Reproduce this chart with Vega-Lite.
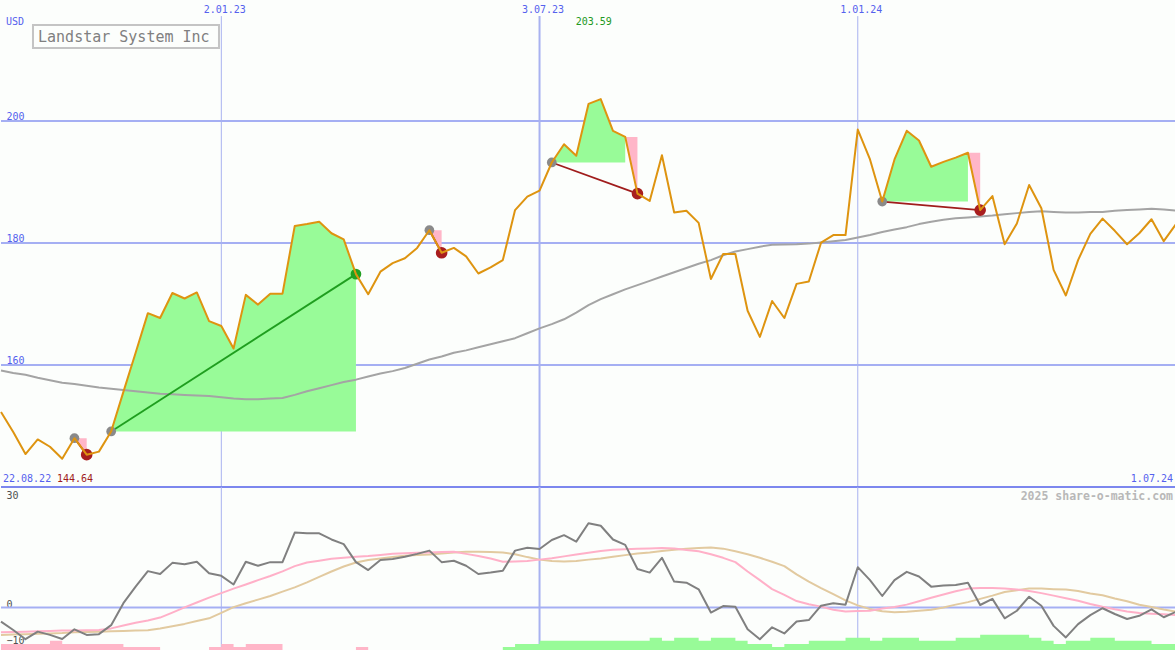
{
  "$schema": "https://vega.github.io/schema/vega-lite/v6.json",
  "background": "#fcfefc",
  "padding": 0,
  "spacing": 0,
  "bounds": "flush",
  "config": {
    "view": {"stroke": null},
    "axis": {"labelFont": "DejaVu Sans Mono", "labelFontSize": 10, "domain": false, "ticks": false, "tickSize": 0, "labelFontWeight": "normal", "grid": false},
    "text": {"font": "DejaVu Sans Mono"},
    "line": {"clip": true, "strokeJoin": "round"},
    "rule": {"clip": true}
  },
  "datasets": {
    "weekly": [
      {"d": "2022-08-29", "close": 152.3, "ma": 159.1, "osc": -3.9, "pk": -6.9, "tan": -7.6, "hist": -2},
      {"d": "2022-09-05", "close": 149.0, "ma": 158.7, "osc": -6.25, "pk": -6.8, "tan": -7.5, "hist": -2},
      {"d": "2022-09-12", "close": 145.4, "ma": 158.4, "osc": -8.8, "pk": -6.7, "tan": -7.4, "hist": -2},
      {"d": "2022-09-19", "close": 147.8, "ma": 157.9, "osc": -6.7, "pk": -6.6, "tan": -7.3, "hist": -2},
      {"d": "2022-09-26", "close": 146.6, "ma": 157.5, "osc": -7.6, "pk": -6.5, "tan": -7.2, "hist": -3},
      {"d": "2022-10-03", "close": 144.64, "ma": 157.1, "osc": -8.75, "pk": -6.4, "tan": -7.1, "hist": -2},
      {"d": "2022-10-10", "close": 148.0, "ma": 156.9, "osc": -6.05, "pk": -6.4, "tan": -6.9, "hist": -2},
      {"d": "2022-10-17", "close": 145.3, "ma": 156.6, "osc": -7.6, "pk": -6.3, "tan": -6.8, "hist": -2},
      {"d": "2022-10-24", "close": 145.8, "ma": 156.3, "osc": -7.4, "pk": -6.25, "tan": -6.75, "hist": -2},
      {"d": "2022-10-31", "close": 149.1, "ma": 156.1, "osc": -4.9, "pk": -5.8, "tan": -6.6, "hist": -2},
      {"d": "2022-11-07", "close": 155.6, "ma": 155.9, "osc": 1.2, "pk": -5.0, "tan": -6.5, "hist": -1},
      {"d": "2022-11-14", "close": 162.0, "ma": 155.7, "osc": 5.8, "pk": -4.25, "tan": -6.4, "hist": -1},
      {"d": "2022-11-21", "close": 168.5, "ma": 155.5, "osc": 10.1, "pk": -3.6, "tan": -6.3, "hist": -1},
      {"d": "2022-11-28", "close": 167.7, "ma": 155.3, "osc": 9.3, "pk": -2.8, "tan": -5.8, "hist": 0},
      {"d": "2022-12-05", "close": 171.8, "ma": 155.2, "osc": 12.4, "pk": -1.4, "tan": -5.2, "hist": 0},
      {"d": "2022-12-12", "close": 170.9, "ma": 155.1, "osc": 12.0, "pk": 0.05, "tan": -4.55, "hist": 0},
      {"d": "2022-12-19", "close": 171.9, "ma": 155.0, "osc": 12.7, "pk": 1.4, "tan": -3.75, "hist": 0},
      {"d": "2022-12-26", "close": 167.2, "ma": 154.9, "osc": 9.5, "pk": 2.75, "tan": -3.0, "hist": -1},
      {"d": "2023-01-02", "close": 166.4, "ma": 154.7, "osc": 8.8, "pk": 4.0, "tan": -1.5, "hist": -2},
      {"d": "2023-01-09", "close": 162.7, "ma": 154.5, "osc": 6.4, "pk": 5.25, "tan": 0.1, "hist": -1},
      {"d": "2023-01-16", "close": 171.5, "ma": 154.4, "osc": 12.7, "pk": 6.4, "tan": 1.2, "hist": -2},
      {"d": "2023-01-23", "close": 169.9, "ma": 154.4, "osc": 11.6, "pk": 7.6, "tan": 2.2, "hist": -2},
      {"d": "2023-01-30", "close": 171.7, "ma": 154.5, "osc": 12.6, "pk": 8.75, "tan": 3.2, "hist": -2},
      {"d": "2023-02-06", "close": 171.7, "ma": 154.6, "osc": 12.6, "pk": 10.05, "tan": 4.4, "hist": 0},
      {"d": "2023-02-13", "close": 182.8, "ma": 155.1, "osc": 20.8, "pk": 11.5, "tan": 5.6, "hist": 0},
      {"d": "2023-02-20", "close": 183.1, "ma": 155.7, "osc": 20.6, "pk": 12.5, "tan": 7.0, "hist": 0},
      {"d": "2023-02-27", "close": 183.5, "ma": 156.2, "osc": 20.6, "pk": 13.0, "tan": 8.5, "hist": 0},
      {"d": "2023-03-06", "close": 181.6, "ma": 156.7, "osc": 18.9, "pk": 13.55, "tan": 10.0, "hist": 0},
      {"d": "2023-03-13", "close": 180.6, "ma": 157.2, "osc": 17.6, "pk": 13.85, "tan": 11.4, "hist": 0},
      {"d": "2023-03-20", "close": 174.9, "ma": 157.6, "osc": 12.6, "pk": 14.1, "tan": 12.5, "hist": -1},
      {"d": "2023-03-27", "close": 171.6, "ma": 158.1, "osc": 10.4, "pk": 14.3, "tan": 13.2, "hist": 0},
      {"d": "2023-04-03", "close": 175.3, "ma": 158.6, "osc": 13.2, "pk": 14.6, "tan": 13.6, "hist": 0},
      {"d": "2023-04-10", "close": 176.7, "ma": 159.0, "osc": 13.5, "pk": 14.9, "tan": 14.0, "hist": 0},
      {"d": "2023-04-17", "close": 177.5, "ma": 159.5, "osc": 14.1, "pk": 15.1, "tan": 14.4, "hist": 0},
      {"d": "2023-04-24", "close": 179.2, "ma": 160.2, "osc": 14.9, "pk": 15.2, "tan": 14.6, "hist": 0},
      {"d": "2023-05-01", "close": 182.1, "ma": 160.9, "osc": 15.8, "pk": 15.3, "tan": 14.75, "hist": 0},
      {"d": "2023-05-08", "close": 178.4, "ma": 161.4, "osc": 12.6, "pk": 15.4, "tan": 15.0, "hist": 0},
      {"d": "2023-05-15", "close": 179.2, "ma": 162.0, "osc": 13.0, "pk": 15.5, "tan": 15.25, "hist": 0},
      {"d": "2023-05-22", "close": 177.8, "ma": 162.4, "osc": 11.6, "pk": 14.9, "tan": 15.5, "hist": 0},
      {"d": "2023-05-29", "close": 175.0, "ma": 162.9, "osc": 9.3, "pk": 14.3, "tan": 15.5, "hist": 0},
      {"d": "2023-06-05", "close": 176.0, "ma": 163.4, "osc": 9.7, "pk": 13.6, "tan": 15.45, "hist": 0},
      {"d": "2023-06-12", "close": 177.2, "ma": 163.9, "osc": 10.2, "pk": 12.7, "tan": 15.3, "hist": 1},
      {"d": "2023-06-19", "close": 185.4, "ma": 164.4, "osc": 15.8, "pk": 12.8, "tan": 14.8, "hist": 2},
      {"d": "2023-06-26", "close": 187.6, "ma": 165.2, "osc": 16.6, "pk": 12.9, "tan": 14.0, "hist": 2},
      {"d": "2023-07-03", "close": 188.6, "ma": 166.0, "osc": 16.25, "pk": 13.3, "tan": 13.3, "hist": 3},
      {"d": "2023-07-10", "close": 193.2, "ma": 166.7, "osc": 18.75, "pk": 13.7, "tan": 12.9, "hist": 3},
      {"d": "2023-07-17", "close": 196.2, "ma": 167.5, "osc": 20.1, "pk": 14.2, "tan": 12.8, "hist": 3},
      {"d": "2023-07-24", "close": 194.3, "ma": 168.6, "osc": 18.3, "pk": 14.7, "tan": 12.9, "hist": 3},
      {"d": "2023-07-31", "close": 202.8, "ma": 169.8, "osc": 23.4, "pk": 15.2, "tan": 13.3, "hist": 3},
      {"d": "2023-08-07", "close": 203.59, "ma": 170.8, "osc": 22.7, "pk": 15.7, "tan": 13.6, "hist": 3},
      {"d": "2023-08-14", "close": 198.4, "ma": 171.6, "osc": 18.9, "pk": 16.05, "tan": 14.1, "hist": 3},
      {"d": "2023-08-21", "close": 197.4, "ma": 172.4, "osc": 17.4, "pk": 16.2, "tan": 14.55, "hist": 3},
      {"d": "2023-08-28", "close": 188.1, "ma": 173.1, "osc": 10.7, "pk": 16.3, "tan": 15.0, "hist": 3},
      {"d": "2023-09-04", "close": 186.9, "ma": 173.8, "osc": 9.7, "pk": 16.4, "tan": 15.3, "hist": 4},
      {"d": "2023-09-11", "close": 194.4, "ma": 174.5, "osc": 13.8, "pk": 16.5, "tan": 15.7, "hist": 3},
      {"d": "2023-09-18", "close": 185.0, "ma": 175.2, "osc": 7.2, "pk": 16.4, "tan": 16.05, "hist": 4},
      {"d": "2023-09-25", "close": 185.3, "ma": 175.9, "osc": 6.9, "pk": 16.0, "tan": 16.3, "hist": 4},
      {"d": "2023-10-02", "close": 183.3, "ma": 176.6, "osc": 5.05, "pk": 15.6, "tan": 16.55, "hist": 3},
      {"d": "2023-10-09", "close": 174.1, "ma": 177.2, "osc": -1.4, "pk": 14.8, "tan": 16.7, "hist": 4},
      {"d": "2023-10-16", "close": 178.2, "ma": 178.0, "osc": 0.4, "pk": 13.8, "tan": 16.35, "hist": 4},
      {"d": "2023-10-23", "close": 178.2, "ma": 178.6, "osc": 0.2, "pk": 12.6, "tan": 15.6, "hist": 3},
      {"d": "2023-10-30", "close": 168.9, "ma": 179.0, "osc": -6.05, "pk": 10.0, "tan": 14.8, "hist": 2},
      {"d": "2023-11-06", "close": 164.6, "ma": 179.4, "osc": -8.8, "pk": 7.6, "tan": 13.8, "hist": 2},
      {"d": "2023-11-13", "close": 170.5, "ma": 179.7, "osc": -5.5, "pk": 5.1, "tan": 12.7, "hist": 1},
      {"d": "2023-11-20", "close": 167.7, "ma": 179.75, "osc": -7.2, "pk": 3.5, "tan": 11.5, "hist": 2},
      {"d": "2023-11-27", "close": 173.3, "ma": 179.8, "osc": -3.9, "pk": 1.8, "tan": 9.2, "hist": 2},
      {"d": "2023-12-04", "close": 173.7, "ma": 179.9, "osc": -3.5, "pk": 0.9, "tan": 7.2, "hist": 3},
      {"d": "2023-12-11", "close": 180.05, "ma": 180.1, "osc": 0.5, "pk": 0.25, "tan": 5.4, "hist": 3},
      {"d": "2023-12-18", "close": 181.3, "ma": 180.3, "osc": 1.2, "pk": -0.6, "tan": 3.7, "hist": 3},
      {"d": "2023-12-25", "close": 181.3, "ma": 180.5, "osc": 0.8, "pk": -1.1, "tan": 2.0, "hist": 4},
      {"d": "2024-01-01", "close": 198.6, "ma": 180.9, "osc": 11.2, "pk": -1.0, "tan": 0.6, "hist": 4},
      {"d": "2024-01-08", "close": 193.7, "ma": 181.3, "osc": 7.6, "pk": -0.9, "tan": -0.4, "hist": 3},
      {"d": "2024-01-15", "close": 186.8, "ma": 181.8, "osc": 3.2, "pk": -0.3, "tan": -1.05, "hist": 4},
      {"d": "2024-01-22", "close": 193.7, "ma": 182.2, "osc": 7.6, "pk": 0.15, "tan": -1.3, "hist": 4},
      {"d": "2024-01-29", "close": 198.4, "ma": 182.6, "osc": 9.9, "pk": 0.8, "tan": -1.2, "hist": 4},
      {"d": "2024-02-05", "close": 196.8, "ma": 183.1, "osc": 8.6, "pk": 1.75, "tan": -0.9, "hist": 3},
      {"d": "2024-02-12", "close": 192.5, "ma": 183.5, "osc": 5.8, "pk": 2.7, "tan": -0.6, "hist": 3},
      {"d": "2024-02-19", "close": 193.3, "ma": 183.8, "osc": 6.1, "pk": 3.6, "tan": 0.0, "hist": 3},
      {"d": "2024-02-26", "close": 194.0, "ma": 184.05, "osc": 6.25, "pk": 4.5, "tan": 0.8, "hist": 4},
      {"d": "2024-03-04", "close": 194.8, "ma": 184.2, "osc": 6.9, "pk": 5.25, "tan": 1.5, "hist": 4},
      {"d": "2024-03-11", "close": 185.4, "ma": 184.35, "osc": 0.7, "pk": 5.4, "tan": 2.4, "hist": 5},
      {"d": "2024-03-18", "close": 187.7, "ma": 184.5, "osc": 2.4, "pk": 5.45, "tan": 3.3, "hist": 5},
      {"d": "2024-03-25", "close": 179.8, "ma": 184.7, "osc": -3.0, "pk": 5.3, "tan": 4.3, "hist": 5},
      {"d": "2024-04-01", "close": 183.2, "ma": 184.9, "osc": -0.9, "pk": 5.0, "tan": 4.8, "hist": 5},
      {"d": "2024-04-08", "close": 189.5, "ma": 185.1, "osc": 3.0, "pk": 4.6, "tan": 5.3, "hist": 4},
      {"d": "2024-04-15", "close": 185.7, "ma": 185.2, "osc": 0.5, "pk": 4.0, "tan": 5.25, "hist": 3},
      {"d": "2024-04-22", "close": 175.6, "ma": 185.1, "osc": -5.1, "pk": 3.3, "tan": 5.1, "hist": 2},
      {"d": "2024-04-29", "close": 171.4, "ma": 185.0, "osc": -8.3, "pk": 2.6, "tan": 5.0, "hist": 3},
      {"d": "2024-05-06", "close": 177.2, "ma": 185.0, "osc": -4.6, "pk": 1.9, "tan": 4.6, "hist": 3},
      {"d": "2024-05-13", "close": 181.5, "ma": 185.1, "osc": -2.1, "pk": 1.0, "tan": 3.9, "hist": 4},
      {"d": "2024-05-20", "close": 184.0, "ma": 185.1, "osc": -0.2, "pk": 0.2, "tan": 3.4, "hist": 4},
      {"d": "2024-05-27", "close": 182.0, "ma": 185.3, "osc": -1.8, "pk": -0.5, "tan": 2.5, "hist": 3},
      {"d": "2024-06-03", "close": 179.8, "ma": 185.4, "osc": -3.2, "pk": -1.1, "tan": 1.75, "hist": 3},
      {"d": "2024-06-10", "close": 181.6, "ma": 185.5, "osc": -2.3, "pk": -1.5, "tan": 0.75, "hist": 3},
      {"d": "2024-06-17", "close": 183.9, "ma": 185.6, "osc": -0.5, "pk": -1.7, "tan": 0.15, "hist": 2},
      {"d": "2024-06-24", "close": 180.3, "ma": 185.5, "osc": -2.7, "pk": -1.9, "tan": -0.55, "hist": 2},
      {"d": "2024-07-01", "close": 183.1, "ma": 185.3, "osc": -1.2, "pk": -2.1, "tan": -1.15, "hist": 2}
    ],
    "fills": [
      {"trade": "B", "kind": "gain", "base": 149.1, "d": "2022-10-31", "close": 149.1},
      {"trade": "B", "kind": "gain", "base": 149.1, "d": "2022-11-07", "close": 155.6},
      {"trade": "B", "kind": "gain", "base": 149.1, "d": "2022-11-14", "close": 162.0},
      {"trade": "B", "kind": "gain", "base": 149.1, "d": "2022-11-21", "close": 168.5},
      {"trade": "B", "kind": "gain", "base": 149.1, "d": "2022-11-28", "close": 167.7},
      {"trade": "B", "kind": "gain", "base": 149.1, "d": "2022-12-05", "close": 171.8},
      {"trade": "B", "kind": "gain", "base": 149.1, "d": "2022-12-12", "close": 170.9},
      {"trade": "B", "kind": "gain", "base": 149.1, "d": "2022-12-19", "close": 171.9},
      {"trade": "B", "kind": "gain", "base": 149.1, "d": "2022-12-26", "close": 167.2},
      {"trade": "B", "kind": "gain", "base": 149.1, "d": "2023-01-02", "close": 166.4},
      {"trade": "B", "kind": "gain", "base": 149.1, "d": "2023-01-09", "close": 162.7},
      {"trade": "B", "kind": "gain", "base": 149.1, "d": "2023-01-16", "close": 171.5},
      {"trade": "B", "kind": "gain", "base": 149.1, "d": "2023-01-23", "close": 169.9},
      {"trade": "B", "kind": "gain", "base": 149.1, "d": "2023-01-30", "close": 171.7},
      {"trade": "B", "kind": "gain", "base": 149.1, "d": "2023-02-06", "close": 171.7},
      {"trade": "B", "kind": "gain", "base": 149.1, "d": "2023-02-13", "close": 182.8},
      {"trade": "B", "kind": "gain", "base": 149.1, "d": "2023-02-20", "close": 183.1},
      {"trade": "B", "kind": "gain", "base": 149.1, "d": "2023-02-27", "close": 183.5},
      {"trade": "B", "kind": "gain", "base": 149.1, "d": "2023-03-06", "close": 181.6},
      {"trade": "B", "kind": "gain", "base": 149.1, "d": "2023-03-13", "close": 180.6},
      {"trade": "B", "kind": "gain", "base": 149.1, "d": "2023-03-20", "close": 174.9},
      {"trade": "D", "kind": "gain", "base": 193.2, "d": "2023-07-10", "close": 193.2},
      {"trade": "D", "kind": "gain", "base": 193.2, "d": "2023-07-17", "close": 196.2},
      {"trade": "D", "kind": "gain", "base": 193.2, "d": "2023-07-24", "close": 194.3},
      {"trade": "D", "kind": "gain", "base": 193.2, "d": "2023-07-31", "close": 202.8},
      {"trade": "D", "kind": "gain", "base": 193.2, "d": "2023-08-07", "close": 203.59},
      {"trade": "D", "kind": "gain", "base": 193.2, "d": "2023-08-14", "close": 198.4},
      {"trade": "D", "kind": "gain", "base": 193.2, "d": "2023-08-21", "close": 197.4},
      {"trade": "E", "kind": "gain", "base": 186.8, "d": "2024-01-15", "close": 186.8},
      {"trade": "E", "kind": "gain", "base": 186.8, "d": "2024-01-22", "close": 193.7},
      {"trade": "E", "kind": "gain", "base": 186.8, "d": "2024-01-29", "close": 198.4},
      {"trade": "E", "kind": "gain", "base": 186.8, "d": "2024-02-05", "close": 196.8},
      {"trade": "E", "kind": "gain", "base": 186.8, "d": "2024-02-12", "close": 192.5},
      {"trade": "E", "kind": "gain", "base": 186.8, "d": "2024-02-19", "close": 193.3},
      {"trade": "E", "kind": "gain", "base": 186.8, "d": "2024-02-26", "close": 194.0},
      {"trade": "E", "kind": "gain", "base": 186.8, "d": "2024-03-04", "close": 194.8},
      {"trade": "A2", "kind": "loss", "base": 148.0, "d": "2022-10-10", "close": 148.0},
      {"trade": "A2", "kind": "loss", "base": 148.0, "d": "2022-10-17", "close": 145.3},
      {"trade": "C2", "kind": "loss", "base": 182.1, "d": "2023-05-01", "close": 182.1},
      {"trade": "C2", "kind": "loss", "base": 182.1, "d": "2023-05-08", "close": 178.4},
      {"trade": "D2", "kind": "loss", "base": 197.4, "d": "2023-08-21", "close": 197.4},
      {"trade": "D2", "kind": "loss", "base": 197.4, "d": "2023-08-28", "close": 188.1},
      {"trade": "E2", "kind": "loss", "base": 194.8, "d": "2024-03-04", "close": 194.8},
      {"trade": "E2", "kind": "loss", "base": 194.8, "d": "2024-03-11", "close": 185.4}
    ],
    "trades": [
      {"trade": "A", "d": "2022-10-10", "close": 148.0, "dot": "buy", "result": "loss"},
      {"trade": "A", "d": "2022-10-17", "close": 145.3, "dot": "loss", "result": "loss"},
      {"trade": "B", "d": "2022-10-31", "close": 149.1, "dot": "buy", "result": "win"},
      {"trade": "B", "d": "2023-03-20", "close": 174.9, "dot": "win", "result": "win"},
      {"trade": "C", "d": "2023-05-01", "close": 182.1, "dot": "buy", "result": "loss"},
      {"trade": "C", "d": "2023-05-08", "close": 178.4, "dot": "loss", "result": "loss"},
      {"trade": "D", "d": "2023-07-10", "close": 193.2, "dot": "buy", "result": "loss"},
      {"trade": "D", "d": "2023-08-28", "close": 188.1, "dot": "loss", "result": "loss"},
      {"trade": "E", "d": "2024-01-15", "close": 186.8, "dot": "buy", "result": "loss"},
      {"trade": "E", "d": "2024-03-11", "close": 185.4, "dot": "loss", "result": "loss"}
    ],
    "vlines": [
      {"d": "2023-01-02", "kind": "jan"},
      {"d": "2023-07-03", "kind": "jul"},
      {"d": "2024-01-01", "kind": "jan"}
    ],
    "pricegrid": [{"v": 160}, {"v": 180}, {"v": 200}]
  },
  "vconcat": [
    {
      "width": 1175,
      "height": 487,
      "resolve": {"scale": {"color": "independent", "size": "independent"}},
      "layer": [
        {
          "data": {"name": "pricegrid"},
          "mark": {"type": "rule", "color": "#a5aff3", "strokeWidth": 2},
          "encoding": {
            "y": {"field": "v", "type": "quantitative",
              "scale": {"domain": [140, 219.84], "nice": false, "zero": false},
              "axis": {"orient": "left", "values": [160, 180, 200], "grid": false, "labelAlign": "left", "labelBaseline": "alphabetic", "labelPadding": -5, "labelOffset": -2, "labelColor": "#5561ee", "title": null, "format": "d"}}
          }
        },
        {
          "data": {"name": "vlines"},
          "mark": {"type": "rule", "color": "#a8b2f0"},
          "encoding": {
            "x": {"field": "d", "type": "temporal",
              "scale": {"type": "utc", "domain": [{"year": 2022, "month": 8, "date": 29, "utc": true}, {"year": 2024, "month": 7, "date": 1, "utc": true}]},
              "axis": {"orient": "top", "values": [{"year": 2023, "month": 1, "date": 2, "utc": true}, {"year": 2023, "month": 7, "date": 3, "utc": true}, {"year": 2024, "month": 1, "date": 1, "utc": true}],
                "format": "%-d.%m.%y", "labelPadding": -12.5, "labelBaseline": "alphabetic", "labelOffset": 3, "labelColor": "#5561ee", "grid": false, "title": null, "labelFlush": false}},
            "y": {"datum": 217.2, "type": "quantitative"},
            "y2": {"datum": 140},
            "strokeWidth": {"condition": {"test": "datum.kind === 'jul'", "value": 2}, "value": 1}
          }
        },
        {
          "data": {"name": "fills"},
          "mark": {"type": "area", "opacity": 1},
          "encoding": {
            "x": {"field": "d", "type": "temporal"},
            "y": {"field": "close", "type": "quantitative", "stack": null},
            "y2": {"field": "base"},
            "detail": {"field": "trade"},
            "color": {"field": "kind", "type": "nominal", "scale": {"domain": ["gain", "loss"], "range": ["#98fb98", "#ffb6c8"]}, "legend": null}
          }
        },
        {
          "data": {"name": "weekly"},
          "mark": {"type": "line", "color": "#a4a4a4", "strokeWidth": 2},
          "encoding": {
            "x": {"field": "d", "type": "temporal"},
            "y": {"field": "ma", "type": "quantitative"}
          }
        },
        {
          "data": {"name": "trades"},
          "mark": {"type": "line", "strokeWidth": 1.8},
          "encoding": {
            "x": {"field": "d", "type": "temporal"},
            "y": {"field": "close", "type": "quantitative"},
            "detail": {"field": "trade"},
            "color": {"field": "result", "type": "nominal", "scale": {"domain": ["win", "loss"], "range": ["#1f9e1f", "#a01c1c"]}, "legend": null}
          }
        },
        {
          "data": {"name": "trades"},
          "mark": {"type": "circle", "opacity": 1},
          "encoding": {
            "x": {"field": "d", "type": "temporal"},
            "y": {"field": "close", "type": "quantitative"},
            "color": {"field": "dot", "type": "nominal", "scale": {"domain": ["buy", "win", "loss"], "range": ["#8a8a8a", "#22a022", "#a81e1e"]}, "legend": null},
            "size": {"field": "dot", "type": "nominal", "scale": {"domain": ["buy", "win", "loss"], "range": [95, 135, 135]}, "legend": null}
          }
        },
        {
          "data": {"name": "weekly"},
          "mark": {"type": "line", "color": "#de9410", "strokeWidth": 2},
          "encoding": {
            "x": {"field": "d", "type": "temporal"},
            "y": {"field": "close", "type": "quantitative"}
          }
        },
        {
          "data": {"values": [{}]},
          "mark": {"type": "text", "text": "USD", "align": "left", "baseline": "alphabetic", "dx": 5, "fontSize": 10, "color": "#5561ee"},
          "encoding": {"x": {"datum": {"year": 2022, "month": 8, "date": 29, "utc": true}, "type": "temporal"}, "y": {"datum": 215.74}}
        },
        {
          "data": {"values": [{}]},
          "mark": {"type": "text", "text": "22.08.22", "align": "left", "baseline": "alphabetic", "dx": 2, "fontSize": 10, "color": "#5561ee"},
          "encoding": {"x": {"datum": {"year": 2022, "month": 8, "date": 29, "utc": true}, "type": "temporal"}, "y": {"datum": 140.74}}
        },
        {
          "data": {"values": [{}]},
          "mark": {"type": "text", "text": "144.64", "align": "left", "baseline": "alphabetic", "dx": 56, "fontSize": 10, "color": "#a01c1c"},
          "encoding": {"x": {"datum": {"year": 2022, "month": 8, "date": 29, "utc": true}, "type": "temporal"}, "y": {"datum": 140.74}}
        },
        {
          "data": {"values": [{}]},
          "mark": {"type": "text", "text": "1.07.24", "align": "right", "baseline": "alphabetic", "dx": -3, "fontSize": 10, "color": "#5561ee"},
          "encoding": {"x": {"datum": {"year": 2024, "month": 7, "date": 1, "utc": true}, "type": "temporal"}, "y": {"datum": 140.74}}
        },
        {
          "data": {"values": [{}]},
          "mark": {"type": "text", "text": "203.59", "align": "center", "baseline": "alphabetic", "dx": -7, "fontSize": 10, "color": "#229922"},
          "encoding": {"x": {"datum": {"year": 2023, "month": 8, "date": 7, "utc": true}, "type": "temporal"}, "y": {"datum": 215.74}}
        },
        {
          "data": {"values": [{}]},
          "mark": {"type": "rect", "fill": "#fcfefc", "stroke": "#c4c4c4", "strokeWidth": 2},
          "encoding": {
            "x": {"datum": {"year": 2022, "month": 9, "date": 16, "hours": 7, "utc": true}, "type": "temporal"},
            "x2": {"datum": {"year": 2022, "month": 12, "date": 31, "hours": 16, "utc": true}},
            "y": {"datum": 215.74},
            "y2": {"datum": 211.97}
          }
        },
        {
          "data": {"values": [{}]},
          "mark": {"type": "text", "text": "Landstar System Inc", "align": "left", "baseline": "middle", "fontSize": 15, "color": "#808080"},
          "encoding": {"x": {"datum": {"year": 2022, "month": 9, "date": 19, "hours": 4, "utc": true}, "type": "temporal"}, "y": {"datum": 213.77}}
        },
        {
          "data": {"values": [{}]},
          "mark": {"type": "rule", "color": "#7c87ee", "strokeWidth": 2},
          "encoding": {"y": {"datum": 140}}
        }
      ]
    },
    {
      "width": 1175,
      "height": 163,
      "resolve": {"scale": {"y": "independent"}},
      "layer": [
        {
          "data": {"name": "vlines"},
          "mark": {"type": "rule", "color": "#a8b2f0"},
          "encoding": {
            "x": {"field": "d", "type": "temporal",
              "scale": {"type": "utc", "domain": [{"year": 2022, "month": 8, "date": 29, "utc": true}, {"year": 2024, "month": 7, "date": 1, "utc": true}]},
              "axis": null},
            "strokeWidth": {"condition": {"test": "datum.kind === 'jul'", "value": 2}, "value": 1}
          }
        },
        {
          "data": {"name": "weekly"},
          "mark": {"type": "area", "interpolate": "step-after", "color": "#ffb6c8"},
          "encoding": {
            "x": {"field": "d", "type": "temporal"},
            "y": {"field": "hist", "type": "quantitative", "stack": null, "scale": {"domain": [0, -53.4], "nice": false, "zero": false, "clamp": true}, "axis": null}
          }
        },
        {
          "data": {"name": "weekly"},
          "mark": {"type": "area", "interpolate": "step-after", "color": "#98fb98"},
          "encoding": {
            "x": {"field": "d", "type": "temporal"},
            "y": {"field": "hist", "type": "quantitative", "stack": null, "scale": {"domain": [0, 53.4], "nice": false, "zero": false, "clamp": true}, "axis": null}
          }
        },
        {
          "layer": [
            {
              "data": {"values": [{}]},
              "mark": {"type": "rule", "color": "#a5aff3", "strokeWidth": 2},
              "encoding": {
                "y": {"datum": 0, "type": "quantitative",
                  "scale": {"domain": [-11.8, 33.47], "nice": false, "zero": false},
                  "axis": {"orient": "left", "values": [-10, 0, 30], "grid": false, "labelAlign": "left", "labelBaseline": "alphabetic", "labelPadding": -5, "labelOffset": -0.5, "labelColor": "#505050", "title": null}}
              }
            },
            {
              "data": {"name": "weekly"},
              "mark": {"type": "line", "color": "#e2caa0", "strokeWidth": 2},
              "encoding": {
                "x": {"field": "d", "type": "temporal"},
                "y": {"field": "tan", "type": "quantitative"}
              }
            },
            {
              "data": {"name": "weekly"},
              "mark": {"type": "line", "color": "#ffb0c8", "strokeWidth": 2},
              "encoding": {
                "x": {"field": "d", "type": "temporal"},
                "y": {"field": "pk", "type": "quantitative"}
              }
            },
            {
              "data": {"name": "weekly"},
              "mark": {"type": "line", "color": "#808080", "strokeWidth": 2},
              "encoding": {
                "x": {"field": "d", "type": "temporal"},
                "y": {"field": "osc", "type": "quantitative"}
              }
            },
            {
              "data": {"values": [{}]},
              "mark": {"type": "text", "text": "2025 share-o-matic.com", "align": "right", "baseline": "alphabetic", "dx": -3, "fontSize": 11.5, "fontWeight": "bold", "color": "#b8b8b8"},
              "encoding": {"x": {"datum": {"year": 2024, "month": 7, "date": 1, "utc": true}, "type": "temporal"}, "y": {"datum": 29.86}}
            }
          ]
        }
      ]
    }
  ]
}
